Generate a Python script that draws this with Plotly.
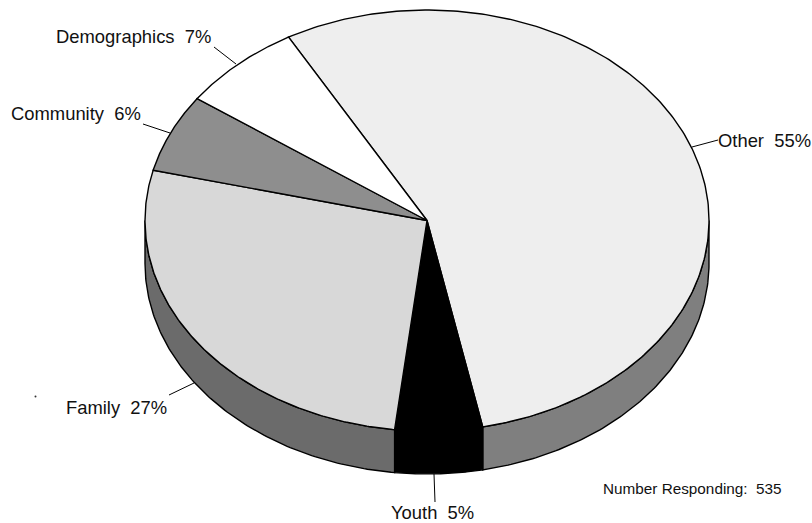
import numpy as np
import plotly.graph_objects as go

# Survey shares, in drawing order (clockwise from the start angle)
categories = ["Other", "Youth", "Family", "Community", "Demographics"]
shares = [55, 5, 27, 6, 7]
top_colors = ["#eeeeee", "#000000", "#d8d8d8", "#8e8e8e", "#ffffff"]
side_colors = ["#7f7f7f", "#000000", "#6b6b6b", "#555555", "#777777"]
respondents = 535

# Ellipse geometry of the tilted disc, in plot units
CX, CY = 427.0, 220.5
RX, RY = 282.0, 210.5
DEPTH = 43.0
START_DEG = -29.4

LINE = dict(color="#000000", width=1.4)


def rim(t_deg, drop=0.0):
    t = np.radians(t_deg)
    return CX + RX * np.sin(t), CY - RY * np.cos(t) + drop


fig = go.Figure()
edges = START_DEG + np.concatenate([[0], np.cumsum(shares)]) * 3.6

# Side wall: only the front half of the disc (90..270 degrees) is visible
for i, name in enumerate(categories):
    a = max(edges[i], 90.0)
    b = min(edges[i + 1], 270.0)
    if b <= a:
        continue
    t = np.linspace(a, b, 120)
    x_top, y_top = rim(t)
    x_bot, y_bot = rim(t[::-1], DEPTH)
    fig.add_trace(go.Scatter(
        x=np.concatenate([x_top, x_bot, x_top[:1]]),
        y=np.concatenate([y_top, y_bot, y_top[:1]]),
        mode="lines", fill="toself", fillcolor=side_colors[i], line=LINE,
        hoverinfo="skip", showlegend=False,
    ))

# Top face, one wedge per category
for i, name in enumerate(categories):
    t = np.linspace(edges[i], edges[i + 1], 240)
    x_arc, y_arc = rim(t)
    fig.add_trace(go.Scatter(
        x=np.concatenate([[CX], x_arc, [CX]]),
        y=np.concatenate([[CY], y_arc, [CY]]),
        mode="lines", fill="toself", fillcolor=top_colors[i], line=LINE,
        name=name, hoverinfo="name", showlegend=False,
    ))

# Label text and leader positions for each category
label_pos = {
    "Other": (716, 140, "left"),
    "Youth": (389, 512, "left"),
    "Family": (64, 407, "left"),
    "Community": (9, 113, "left"),
    "Demographics": (54, 36, "left"),
}
leaders = {
    "Other": ((718, 140), (692, 147)),
    "Youth": ((435, 502), (434, 474)),
    "Family": ((169, 395), (194, 383)),
    "Community": ((143, 124), (170, 133)),
    "Demographics": ((214, 47), (236, 64)),
}

for name, share in zip(categories, shares):
    (x0, y0), (x1, y1) = leaders[name]
    fig.add_trace(go.Scatter(
        x=[x0, x1], y=[y0, y1], mode="lines",
        line=dict(color="#000000", width=1),
        hoverinfo="skip", showlegend=False,
    ))
    lx, ly, anchor = label_pos[name]
    fig.add_annotation(
        x=lx, y=ly, text=f"{name}\u00a0\u00a0{share}%", showarrow=False,
        xanchor=anchor, yanchor="middle",
        font=dict(family="Liberation Sans", size=18.4, color="#111111"),
    )

fig.add_annotation(
    x=601, y=488, text=f"Number Responding:\u00a0\u00a0{respondents}", showarrow=False,
    xanchor="left", yanchor="middle",
    font=dict(family="Liberation Sans", size=15.3, color="#111111"),
)

# Small stray dot to the left of the Family label
fig.add_trace(go.Scatter(
    x=[35.5], y=[396.5], mode="markers",
    marker=dict(color="#333333", size=2, line=dict(width=0)),
    hoverinfo="skip", showlegend=False,
))

fig.update_layout(
    width=812, height=523,
    margin=dict(l=0, r=0, t=0, b=0),
    paper_bgcolor="#ffffff", plot_bgcolor="#ffffff",
    xaxis=dict(range=[0, 812], visible=False, fixedrange=True),
    yaxis=dict(range=[523, 0], visible=False, fixedrange=True),
)

fig.write_html("out.html", config=dict(displayModeBar=False))
